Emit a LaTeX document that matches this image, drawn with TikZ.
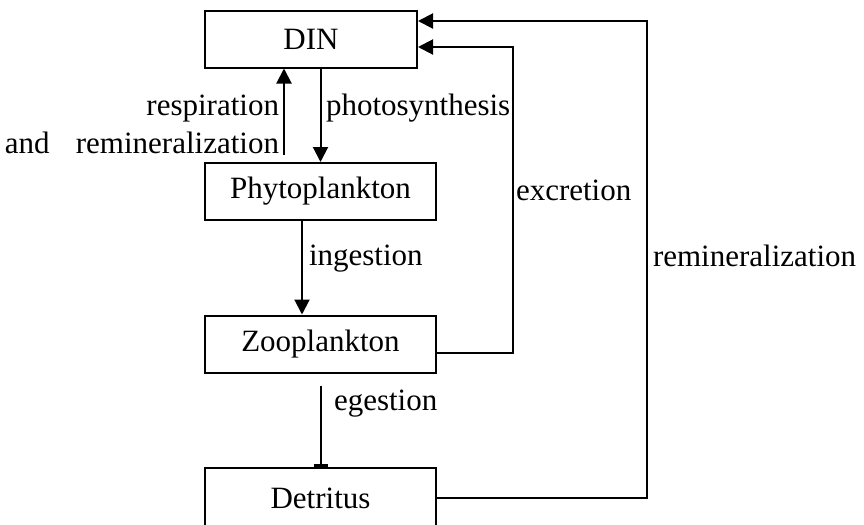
\documentclass[tikz,border=0pt]{standalone}
\usepackage{fontspec}
\setmainfont{Liberation Serif}
\usetikzlibrary{arrows.meta}

\begin{document}
\begin{tikzpicture}[
  x=0.5pt, y=-0.5pt,
  line width=1pt,
  >={Triangle[length=7.5pt,width=7.5pt]},
  pool/.style={
    rectangle,
    draw,
    inner sep=0pt,
    minimum width=115.5pt,
    minimum height=28.5pt,
    font=\fontsize{15.5}{19}\selectfont
  },
  flux/.style={
    inner sep=0pt,
    font=\fontsize{15.5}{19}\selectfont
  }
]
\useasboundingbox (0,0) rectangle (864,525);
% compartments
\node[pool,minimum width=106pt] (din) at (311,39) {DIN};
\node[pool] (phyto) at (320.5,191.5) {Phytoplankton};
\node[pool] (zoo) at (320.5,344) {Zooplankton};
\node[pool,minimum height=30pt] (det) at (320.5,498) {Detritus};
% corners of the return paths
\coordinate (resp) at (284,155);
\coordinate (ing) at (302,0);
\coordinate (eg) at (321,386);
\coordinate (excA) at (436,353);
\coordinate (excB) at (513,47);
\coordinate (remB) at (647,21);
% fluxes
\draw[->] (resp) -- (resp |- din.south);
\draw[->] (phyto.north |- din.south) -- (phyto.north);
\draw[->] (ing |- phyto.south) -- (ing |- zoo.north);
\draw[-{Rectangle[length=1.5pt,width=7pt]}] (eg) -- (eg |- det.north);
\draw[->] (excA -| zoo.east) -| (excB) -- (excB -| din.east);
\draw[->] (det.east) -| (remB) -- (remB -| din.east);
% labels
\node[flux,anchor=base east,align=right] (respl) at (280,153)
  {respiration\\and\hspace{0.85em}remineralization};
\node[flux,anchor=base west] (photol) at (325,115) {photosynthesis};
\node[flux,anchor=base west] (ingl) at (308,265) {ingestion};
\node[flux,anchor=base west] (excl) at (515,200) {excretion};
\node[flux,anchor=base west] (egl) at (333,410) {egestion};
\node[flux,anchor=base west] (reml) at (652,266) {remineralization};
\end{tikzpicture}
\end{document}
